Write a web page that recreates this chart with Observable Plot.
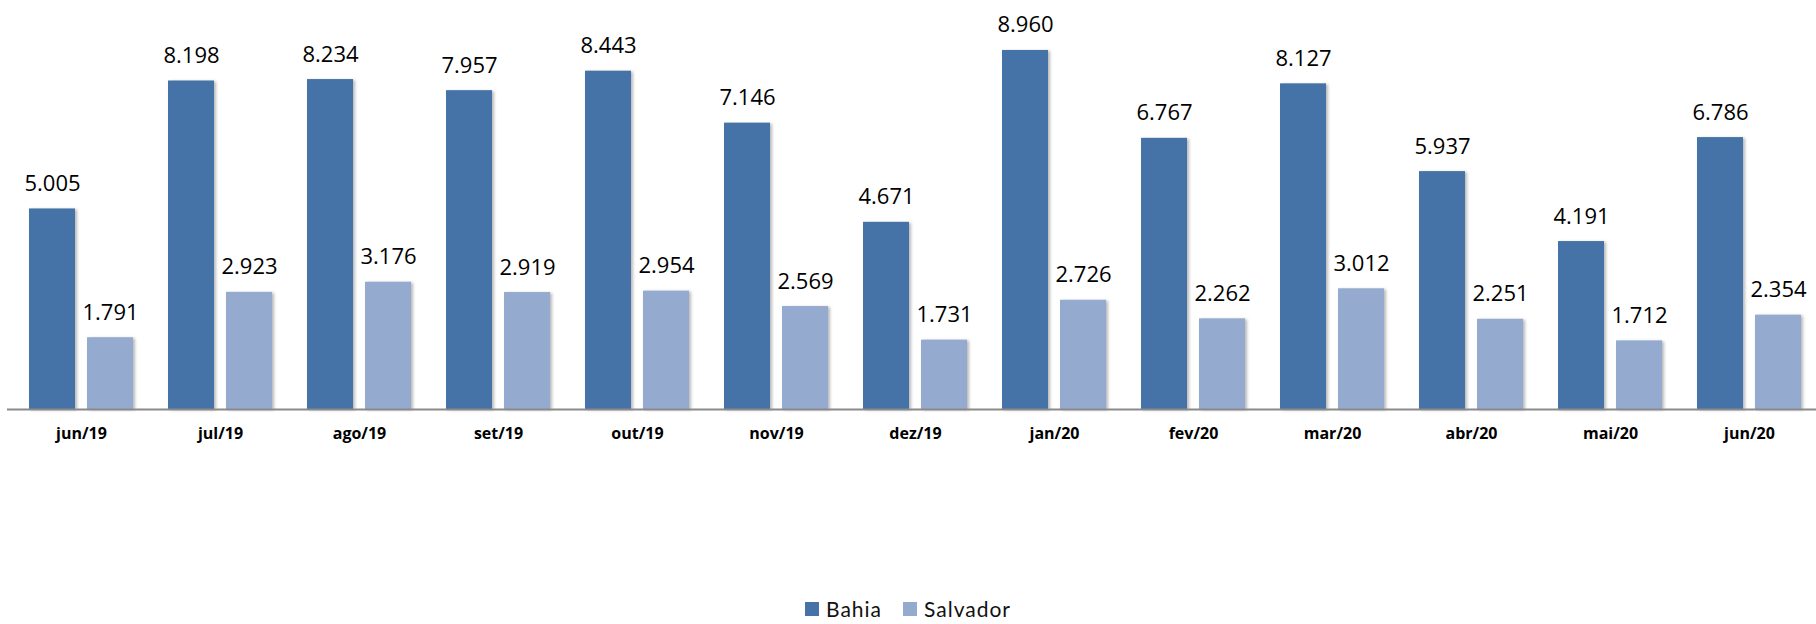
<!DOCTYPE html>
<html>
<head>
<meta charset="utf-8">
<script src="https://cdn.jsdelivr.net/npm/d3@7"></script>
<script src="https://cdn.jsdelivr.net/npm/@observablehq/plot@0.6"></script>
<style>
  html, body { margin: 0; padding: 0; background: #fff; }
  #chart { width: 1816px; height: 624px; position: relative; overflow: hidden; }
  .bars rect { filter: drop-shadow(2px 1px 1.5px rgba(0,0,0,0.28)); }
  #legend { position: absolute; left: 0; width: 1816px; top: 598px; height: 22px; line-height: 22px; display: flex; justify-content: center; align-items: center; gap: 21px;
    font-family: "Lato", "DejaVu Sans", sans-serif; font-size: 21px; letter-spacing: 1px; color: #111; }
  #legend span.item { display: flex; align-items: center; gap: 7px; }
  #legend span.sw { width: 14px; height: 14px; display: inline-block; }
</style>
</head>
<body>
<div id="chart"></div>
<script>
const months = ["jun/19","jul/19","ago/19","set/19","out/19","nov/19","dez/19","jan/20","fev/20","mar/20","abr/20","mai/20","jun/20"];
const bahia = [5005,8198,8234,7957,8443,7146,4671,8960,6767,8127,5937,4191,6786];
const salvador = [1791,2923,3176,2919,2954,2569,1731,2726,2262,3012,2251,1712,2354];
const seriesNames = ["Bahia", "Salvador"];
const seriesColors = ["#4573A7", "#94AACF"];

const fmt = d3.formatLocale({decimal: ",", thousands: ".", grouping: [3], currency: ["R$", ""]}).format(",d");

const dataB = months.map((m, i) => ({month: m, value: bahia[i]}));
const dataS = months.map((m, i) => ({month: m, value: salvador[i]}));

const W = 1816;
const plot = Plot.plot({
  width: W,
  height: 580,
  marginLeft: 7,
  marginRight: 0,
  marginTop: 0,
  marginBottom: 171,
  style: {background: "transparent"},
  x: {domain: months, range: [7, 1823], paddingInner: 0.25, paddingOuter: 0.125, label: null},
  y: {domain: [0, 10207], axis: null},
  marks: [
    Plot.barY(dataB, {x: "month", y: "value", fill: seriesColors[0], insetRight: 58, className: "bars"}),
    Plot.barY(dataS, {x: "month", y: "value", fill: seriesColors[1], insetLeft: 58, className: "bars"}),
    Plot.ruleY([0], {stroke: "#8a8a8a", strokeWidth: 2}),
    Plot.text(dataB, {x: "month", y: "value", text: d => fmt(d.value), dx: -29, dy: -18, lineAnchor: "bottom",
      fontSize: 22, fill: "#000", fontFamily: "Open Sans"}),
    Plot.text(dataS, {x: "month", y: "value", text: d => fmt(d.value), dx: 29, dy: -18, lineAnchor: "bottom",
      fontSize: 22, fill: "#000", fontFamily: "Open Sans"}),
    Plot.axisX({tickSize: 0, tickPadding: 18, fontSize: 16, fontWeight: "bold", fontFamily: "Open Sans", fill: "#000", label: null})
  ]
});
const chart = document.getElementById("chart");
chart.appendChild(plot);

const legend = document.createElement("div");
legend.id = "legend";
seriesNames.forEach((n, i) => {
  const it = document.createElement("span");
  it.className = "item";
  const sw = document.createElement("span");
  sw.className = "sw";
  sw.style.background = seriesColors[i];
  const t = document.createElement("span");
  t.textContent = n;
  it.appendChild(sw); it.appendChild(t);
  legend.appendChild(it);
});
chart.appendChild(legend);
</script>
</body>
</html>
